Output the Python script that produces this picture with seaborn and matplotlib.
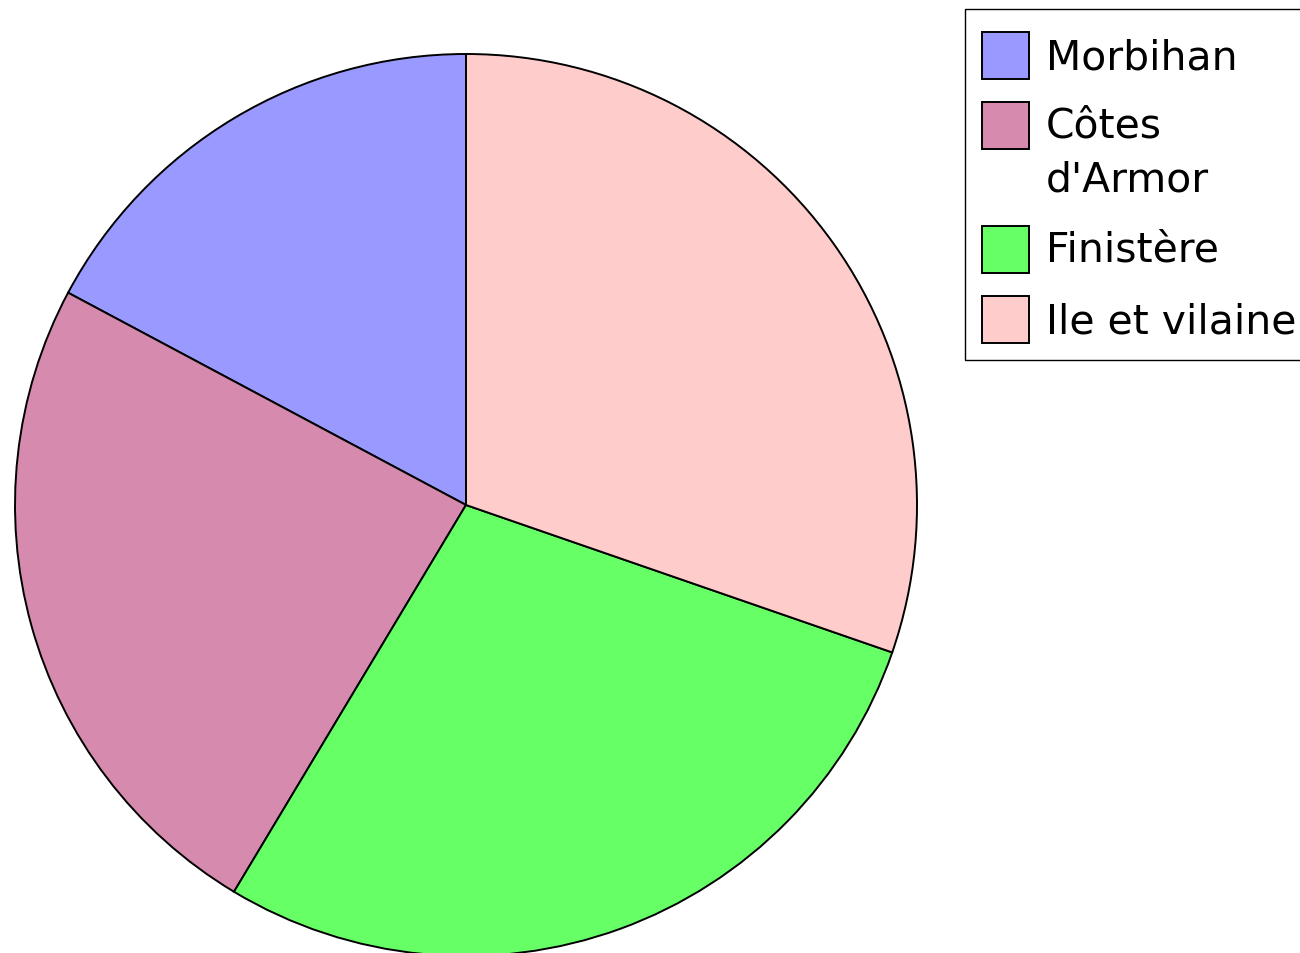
import matplotlib
matplotlib.use("Agg")
import matplotlib.pyplot as plt
from matplotlib.patches import Rectangle
import seaborn as sns

# Part of each département (percent)
departements = ["Morbihan", "Côtes\nd'Armor", "Finistère", "Ile et vilaine"]
parts = [17.2, 24.2, 28.3, 30.3]
couleurs = ["#9999FF", "#D68AAE", "#66FF66", "#FFCCCC"]

sns.set_theme(style="white")
plt.rcParams['font.family'] = ['DejaVu Sans']

W, H = 1300, 954
fig = plt.figure(figsize=(W / 100, H / 100), dpi=100)
fig.patch.set_facecolor("white")

# Pie: centre (466, 506) px from top-left, radius 451 px
cx, cy, r = 466, 506, 451
ax = fig.add_axes([(cx - r) / W, (H - cy - r) / H, 2 * r / W, 2 * r / H])
ax.pie(parts, colors=couleurs, startangle=90, counterclock=True, radius=1,
       wedgeprops=dict(edgecolor="black", linewidth=1.4, clip_on=False))
ax.set_xlim(-1, 1)
ax.set_ylim(-1, 1)
ax.axis("off")

# Legend drawn in pixel coordinates on an overlay axes
lax = fig.add_axes([0, 0, 1, 1])
lax.set_xlim(0, W)
lax.set_ylim(H, 0)
lax.axis("off")
lax.patch.set_alpha(0)

lax.add_patch(Rectangle((965, 10), 360, 351, fill=False, edgecolor="black",
                        linewidth=1.0))
patch_tops = [33, 103, 227, 297]
baselines = [70, 137, 262, 334]
for label, col, top, base in zip(departements, couleurs, patch_tops, baselines):
    lax.add_patch(Rectangle((982, top), 47, 47, facecolor=col,
                            edgecolor="black", linewidth=1.4))
    lines = label.split("\n")
    for i, line in enumerate(lines):
        lax.text(1046, base + i * 55, line, fontsize=29.4, color="black",
                 va="baseline", ha="left")

fig.savefig("out.png", dpi=100, facecolor="white")
